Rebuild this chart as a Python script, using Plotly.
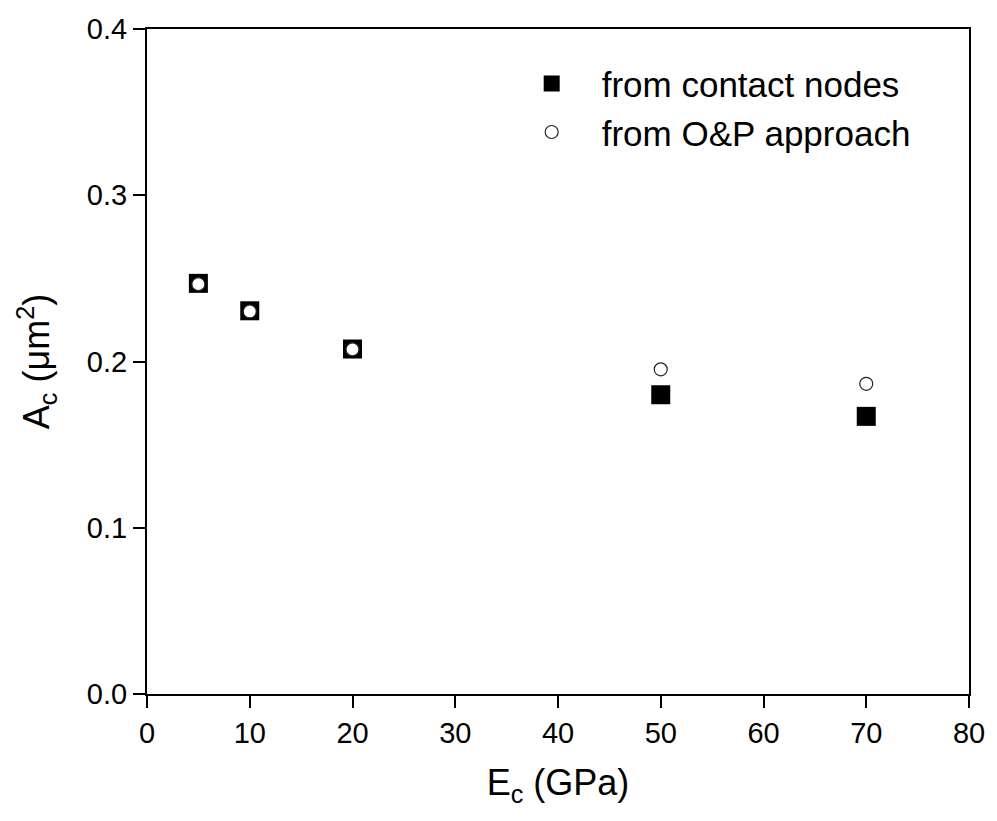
import plotly.graph_objects as go

E_c = [5, 10, 20, 50, 70]
A_contact = [0.247, 0.2305, 0.2075, 0.180, 0.167]
A_op = [0.2465, 0.2301, 0.2073, 0.1953, 0.1866]

FONT = "Liberation Sans, Arial, sans-serif"

fig = go.Figure()
fig.add_trace(go.Scatter(
    x=E_c, y=A_contact, mode="markers", name="from contact nodes",
    marker=dict(symbol="square", size=19, color="black", line=dict(width=0)),
))
fig.add_trace(go.Scatter(
    x=E_c, y=A_op, mode="markers", name="from O&P approach",
    marker=dict(symbol="circle", size=13, color="white", line=dict(width=1.2, color="#222")),
))

axis_common = dict(
    showline=True, linecolor="black", linewidth=2, mirror=True,
    ticks="outside", ticklen=12, tickwidth=2, tickcolor="black",
    showgrid=False, zeroline=False,
    tickfont=dict(family=FONT, size=29, color="black"),
)

fig.update_xaxes(range=[0, 80], dtick=10, tick0=0,
                 title=dict(text="E<sub>c</sub> (GPa)", font=dict(family=FONT, size=36, color="black"), standoff=22),
                 **axis_common)
fig.update_yaxes(range=[0, 0.4], dtick=0.1, tick0=0, tickformat=".1f",
                 title=dict(text="A<sub>c</sub> (μm<sup>2</sup>)", font=dict(family=FONT, size=36, color="black"), standoff=26),
                 **axis_common)

fig.update_layout(
    width=997, height=821,
    margin=dict(l=147, r=25, t=29, b=127),
    plot_bgcolor="white", paper_bgcolor="white",
    legend=dict(x=0.4315, y=0.962, xanchor="left", yanchor="top",
                font=dict(family=FONT, size=35, color="black"),
                bgcolor="rgba(0,0,0,0)", itemwidth=90),
)

fig.write_html("out.html")
